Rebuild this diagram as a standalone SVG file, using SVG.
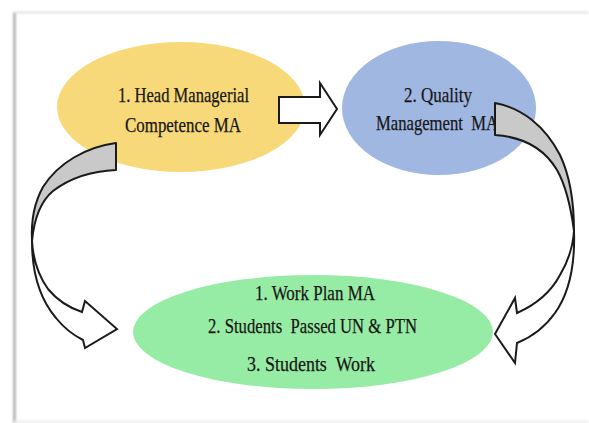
<svg xmlns="http://www.w3.org/2000/svg" width="589" height="423" viewBox="0 0 589 423">
  <style>
    .lbl { font-family: "Liberation Serif", "Times New Roman", serif; font-size: 22px; fill: #161616; stroke: #161616; stroke-width: 0.25; text-anchor: middle; }
    .band-back { fill: #c9c9c9; stroke: #1a1a1a; stroke-width: 2; stroke-linejoin: round; }
    .band-front { fill: #ffffff; stroke: #1a1a1a; stroke-width: 2; stroke-linejoin: miter; }
  </style>
  <defs>
    <filter id="soft" x="-10%" y="-10%" width="120%" height="120%">
      <feGaussianBlur stdDeviation="1"/>
    </filter>
  </defs>

  <!-- page background and framed panel -->
  <rect x="0" y="0" width="589" height="423" fill="#ffffff"/>
  <g id="panel" filter="url(#soft)">
    <line x1="14.5" y1="12" x2="14.5" y2="423" stroke="#b8b8b8" stroke-width="3"/>
    <line x1="14" y1="12.5" x2="589" y2="12.5" stroke="#e2e2e2" stroke-width="2"/>
    <line x1="14" y1="421.5" x2="589" y2="421.5" stroke="#ececec" stroke-width="2"/>
  </g>

  <!-- node 1 -->
  <g id="node-head-managerial">
    <ellipse cx="181" cy="107" rx="124" ry="65" fill="#f8d979"/>
    <text class="lbl" x="183.5" y="102" textLength="131" lengthAdjust="spacingAndGlyphs">1. Head Managerial</text>
    <text class="lbl" x="183" y="132" textLength="116" lengthAdjust="spacingAndGlyphs">Competence MA</text>
  </g>

  <!-- node 2 -->
  <g id="node-quality">
    <ellipse cx="439" cy="108" rx="97" ry="67" fill="#a0b7e2"/>
    <text class="lbl" x="438" y="102" textLength="68" lengthAdjust="spacingAndGlyphs">2. Quality</text>
    <text class="lbl" x="437" y="130" textLength="122" lengthAdjust="spacingAndGlyphs" xml:space="preserve">Management  MA</text>
  </g>

  <!-- node 3 -->
  <g id="node-outcomes">
    <ellipse cx="313" cy="332" rx="180" ry="57" fill="#96eca4"/>
    <text class="lbl" x="315" y="300" textLength="120" lengthAdjust="spacingAndGlyphs">1. Work Plan MA</text>
    <text class="lbl" x="312.5" y="333" textLength="209" lengthAdjust="spacingAndGlyphs" xml:space="preserve">2. Students  Passed UN &amp; PTN</text>
    <text class="lbl" x="311" y="371" textLength="128" lengthAdjust="spacingAndGlyphs" xml:space="preserve">3. Students  Work</text>
  </g>

  <!-- connectors -->
  <g id="connectors">
    <!-- block arrow 1 -> 2 -->
    <path class="band-front" d="M279,97 L320,97 L320,83 L337,109 L320,135 L320,123 L279,123 Z"/>

    <!-- curved arrow 3 -> 1 : twisted band, back face then front face with head -->
    <path class="band-back" d="M116,143 C86,147 58,163 43,187 C34,203 31,222 32,241 C34,220 41,201 53,191 C70,178 92,171 116,170 Z"/>
    <path class="band-front" d="M32,241 C32,270 39,298 56,318 C64,328 73,335 83,340 L85,348 L117,329 L85,301 L82,312 C70,308 57,300 48,289 C38,275 33,258 32,241 Z"/>

    <!-- curved arrow 2 -> 3 -->
    <path class="band-back" d="M495,103 C522,108 545,126 560,155 C570,176 574,203 574,231 C571,208 566,186 557,170 C545,150 526,137 495,135 Z"/>
    <path class="band-front" d="M574,231 C575,262 570,292 555,313 C545,327 532,337 517,343 L515,363 L495,334 L515,298 L517,313 C535,305 551,292 560,275 C569,260 573,246 574,231 Z"/>
  </g>
</svg>
